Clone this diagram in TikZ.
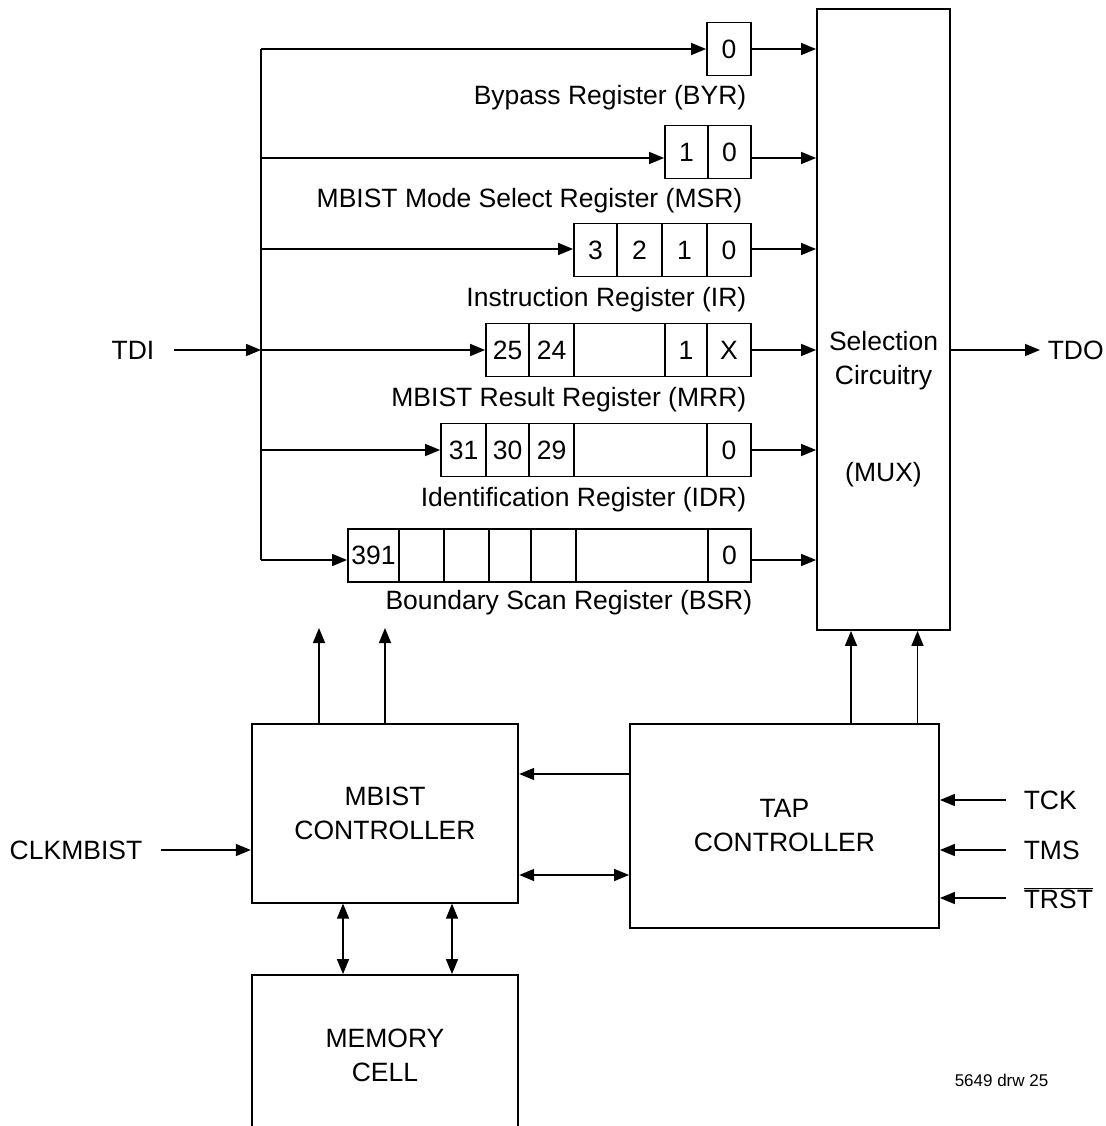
\documentclass[tikz,border=0pt]{standalone}
\usepackage{fontspec}
\setmainfont{Liberation Sans}
\usetikzlibrary{arrows.meta}

\tikzset{every picture/.style={line width=1.5pt}}

\begin{document}
\begin{tikzpicture}[x=1pt, y=-1pt,
        every node/.style={font=\fontsize{26.5}{34}\selectfont},
        box/.style={draw, line width=1.8pt, inner sep=0pt, align=center},
        cell/.style={draw, line width=1.8pt, inner sep=0pt, minimum height=53pt},
        lbl/.style={inner sep=0pt},
        sig/.style={-{Triangle[length=15pt,width=12pt]}},
        dsig/.style={{Triangle[length=15pt,width=12pt]}-{Triangle[length=15pt,width=12pt]}}]
        \useasboundingbox (0,0) rectangle (1105,1126);
        \clip (0,0) rectangle (1105,1126);
        % selection circuitry
        \node[box, minimum width=133pt, minimum height=621pt] (sel) at (883.5,319.5) {};
        \node[lbl, align=center] (seltxt) at (883.5,361) {Selection\\Circuitry};
        \node[lbl] (mux) at (883.5,475) {(MUX)};
        % bypass register
        \node[cell, minimum width=44pt] (byr0) at (729,49) {0};
        % mode select register
        \node[cell, minimum width=43pt] (msr1) at (686.5,152) {1};
        \node[cell, minimum width=43pt] (msr0) at (729.5,152) {0};
        % instruction register
        \node[cell, minimum width=43pt] (ir3) at (595.5,250) {3};
        \node[cell, minimum width=45pt] (ir2) at (639.5,250) {2};
        \node[cell, minimum width=45pt] (ir1) at (684.5,250) {1};
        \node[cell, minimum width=44pt] (ir0) at (729,250) {0};
        % result register
        \node[cell, minimum width=43pt] (mrr25) at (507.5,350) {25};
        \node[cell, minimum width=45pt] (mrr24) at (551.5,350) {24};
        \node[cell, minimum width=91pt] (mrrgap) at (619.5,350) {};
        \node[cell, minimum width=42pt] (mrr1) at (686,350) {1};
        \node[cell, minimum width=44pt] (mrr0) at (729,350) {X};
        % identification register
        \node[cell, minimum width=45pt] (idr31) at (463.5,450) {31};
        \node[cell, minimum width=43pt] (idr30) at (507.5,450) {30};
        \node[cell, minimum width=45pt] (idr29) at (551.5,450) {29};
        \node[cell, minimum width=133pt] (idrgap) at (640.5,450) {};
        \node[cell, minimum width=44pt] (idr0) at (729,450) {0};
        % boundary scan register
        \node[cell, minimum width=51pt] (bsr391) at (373.5,555.5) {391};
        \node[cell, minimum width=45pt] (bsra) at (421.5,555.5) {};
        \node[cell, minimum width=45pt] (bsrb) at (466.5,555.5) {};
        \node[cell, minimum width=42pt] (bsrc) at (510,555.5) {};
        \node[cell, minimum width=45pt] (bsrd) at (553.5,555.5) {};
        \node[cell, minimum width=132pt] (bsrgap) at (642,555.5) {};
        \node[cell, minimum width=43pt] (bsr0) at (729.5,555.5) {0};
        % register names
        \node[lbl, anchor=east] (lbyr) at (747,98) {Bypass Register (BYR)};
        \node[lbl, anchor=east] (lmsr) at (743,201) {MBIST Mode Select Register (MSR)};
        \node[lbl, anchor=east] (lir) at (747,300) {Instruction Register (IR)};
        \node[lbl, anchor=east] (lmrr) at (747,400) {MBIST Result Register (MRR)};
        \node[lbl, anchor=east] (lidr) at (747,500) {Identification Register (IDR)};
        \node[lbl, anchor=east] (lbsr) at (753,603) {Boundary Scan Register (BSR)};
        % TDI bus
        \coordinate (jbyr) at (261,49);
        \coordinate (jmsr) at (261,158);
        \coordinate (jir) at (261,249);
        \coordinate (jmrr) at (261,350);
        \coordinate (jidr) at (261,450);
        \coordinate (jbsr) at (261,560);
        \draw (jbyr) -- (jbsr);
        \node[lbl, anchor=east] (tdi) at (155,350) {TDI};
        \draw[sig, shorten <=19pt] (tdi.east) -- (jmrr);
        \draw[sig] (jbyr) -- (jbyr -| byr0.west);
        \draw[sig] (jmsr) -- (jmsr -| msr1.west);
        \draw[sig] (jir) -- (jir -| ir3.west);
        \draw[sig] (jmrr) -- (jmrr -| mrr25.west);
        \draw[sig] (jidr) -- (jidr -| idr31.west);
        \draw[sig] (jbsr) -- (jbsr -| bsr391.west);
        % into the mux
        \draw[sig] (jbyr -| byr0.east) -- (jbyr -| sel.west);
        \draw[sig] (jmsr -| msr0.east) -- (jmsr -| sel.west);
        \draw[sig] (jir -| ir0.east) -- (jir -| sel.west);
        \draw[sig] (jmrr -| mrr0.east) -- (jmrr -| sel.west);
        \draw[sig] (jidr -| idr0.east) -- (jidr -| sel.west);
        \draw[sig] (jbsr -| bsr0.east) -- (jbsr -| sel.west);
        \node[lbl, anchor=west] (tdo) at (1047,350) {TDO};
        \draw[sig, shorten >=7pt] (jmrr -| sel.east) -- (tdo.west);
        % controllers
        \node[box, minimum width=266.6pt, minimum height=178.4pt] (mbist) at (385,813.5) {MBIST\\CONTROLLER};
        \node[box, minimum width=309pt, minimum height=203.4pt] (tap) at (784.5,826) {TAP\\CONTROLLER};
        \node[box, minimum width=266.6pt, minimum height=160pt] (mem) at (385,1055) {MEMORY\\CELL};
        \coordinate (upa) at (319,628);
        \coordinate (upb) at (385,628);
        \draw[sig] (upa |- mbist.north) -- (upa);
        \draw[sig] (upb |- mbist.north) -- (upb);
        \coordinate (s1) at ([xshift=-32.5pt]sel.south);
        \coordinate (s2) at ([xshift=34pt]sel.south);
        \draw[sig] (s1 |- tap.north) -- (s1);
        \draw[sig] (s2 |- tap.north) -- (s2);
        \coordinate (t1) at ([yshift=52pt]tap.west);
        \coordinate (t2) at ([yshift=-49pt]tap.west);
        \draw[sig] (t1) -- (t1 -| mbist.east);
        \draw[dsig] (t2 -| mbist.east) -- (t2);
        \coordinate (m1) at ([xshift=-42pt]mem.north);
        \coordinate (m2) at ([xshift=67pt]mem.north);
        \draw[dsig] (m1 |- mbist.south) -- (m1);
        \draw[dsig] (m2 |- mbist.south) -- (m2);
        % pins
        \node[lbl, anchor=east] (clk) at (143,850) {CLKMBIST};
        \draw[sig, shorten <=18pt] (clk.east) -- (clk.east -| mbist.west);
        \node[lbl, anchor=west] (tck) at (1023,800) {TCK};
        \node[lbl, anchor=west] (tms) at (1023,850) {TMS};
        \node[lbl, anchor=west] (trst) at (1023,898) {$\overline{\mbox{TRST}}$};
        \draw[sig, shorten <=17pt] (tck.west) -- (tck.west -| tap.east);
        \draw[sig, shorten <=17pt] (tms.west) -- (tms.west -| tap.east);
        \draw[sig, shorten <=17pt] (trst.west) -- (trst.west -| tap.east);
        \node[lbl, anchor=west, font=\fontsize{17}{20}\selectfont] (drw) at (954,1080) {5649 drw 25};
    \end{tikzpicture}
\end{document}
